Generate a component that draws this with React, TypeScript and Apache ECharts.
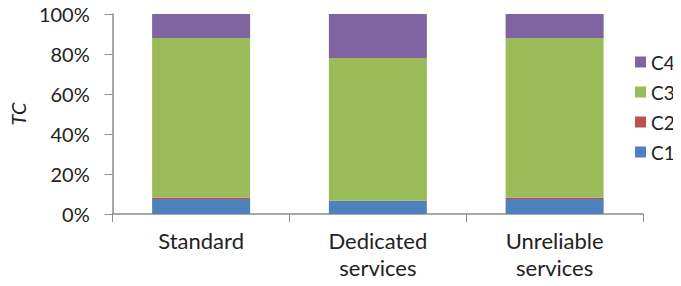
import React, { useEffect, useRef } from "react";
import * as echarts from "echarts";

const categories = ["Standard", "Dedicated\nservices", "Unreliable\nservices"];
const c1 = [7.5, 6.6, 7.5];
const c2 = [0.8, 0.2, 0.8];
const c3 = [79.7, 71.2, 79.7];
const c4 = [12.0, 22.0, 12.0];
const yTicks = [0, 20, 40, 60, 80, 100];

const FONT = "Lato";

export default function App() {
  const ref = useRef<HTMLDivElement>(null);
  useEffect(() => {
    const chart = echarts.init(ref.current!, null, { renderer: "svg" });
    const mk = (name: string, data: number[], color: string) => ({
      name,
      type: "bar",
      stack: "total",
      data,
      barWidth: 98,
      itemStyle: { color },
    });
    chart.setOption({
      animation: false,
      textStyle: { fontFamily: FONT },
      grid: { left: 104, top: 14, right: 38, bottom: 72 },
      legend: {
        orient: "vertical",
        left: 635,
        top: 52,
        padding: 0,
        data: ["C4", "C3", "C2", "C1"],
        itemWidth: 11,
        itemHeight: 11,
        itemGap: 10,
        icon: "rect",
        textStyle: { fontSize: 19, lineHeight: 20, color: "#222", fontFamily: FONT },
      },
      xAxis: {
        type: "category",
        data: categories,
        axisLine: { lineStyle: { color: "#8c8c8c", width: 1.5 } },
        axisTick: { show: true, length: 8, lineStyle: { color: "#8c8c8c" } },
        axisLabel: {
          color: "#222",
          fontSize: 22,
          margin: 13,
          lineHeight: 27,
          fontFamily: FONT,
        },
      },
      yAxis: {
        type: "value",
        min: 0,
        max: 100,
        interval: 20,
        name: "TC",
        nameLocation: "middle",
        nameGap: 70,
        nameTextStyle: { fontStyle: "italic", fontSize: 20, color: "#222", fontFamily: FONT },
        axisLine: { show: true, lineStyle: { color: "#8c8c8c", width: 1.5 } },
        axisTick: { show: true, length: 8, lineStyle: { color: "#8c8c8c" } },
        splitLine: { show: false },
        axisLabel: {
          color: "#222",
          fontSize: 20,
          margin: 23,
          fontFamily: FONT,
          formatter: (v: number) => (yTicks.includes(v) ? v + "%" : ""),
        },
      },
      series: [
        mk("C1", c1, "#4F81BD"),
        mk("C2", c2, "#C0504D"),
        mk("C3", c3, "#9BBB59"),
        mk("C4", c4, "#8064A2"),
      ],
    });
    return () => chart.dispose();
  }, []);
  return <div ref={ref} style={{ width: 681, height: 286, margin: -8 }} />;
}
